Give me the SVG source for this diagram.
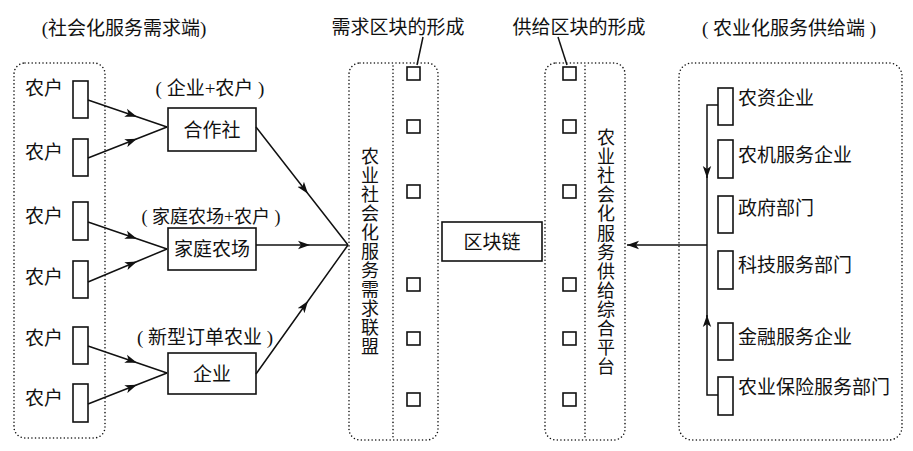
<svg xmlns="http://www.w3.org/2000/svg" width="913" height="451" viewBox="0 0 913 451">
<style>
text{font-family:"Liberation Serif","Noto Sans CJK SC",serif;font-size:19px;fill:#111;dominant-baseline:central}
.c{text-anchor:middle}
.box{fill:#fff;stroke:#111;stroke-width:1.6}
.dot{fill:none;stroke:#111;stroke-width:1.6;stroke-dasharray:0 3.6;stroke-linecap:round}
.ln{fill:none;stroke:#111;stroke-width:1.5}
.sq{fill:#fff;stroke:#111;stroke-width:1.6}
</style>
<defs>
<marker id="ah" markerUnits="userSpaceOnUse" markerWidth="14" markerHeight="10" refX="12" refY="5" orient="auto">
<path d="M0,0.8 L12,5 L0,9.2 L3,5 Z" fill="#111"/>
</marker>
</defs>
<rect width="913" height="451" fill="#fff"/>
<text x="124" y="28" class="c">(社会化服务需求端)</text>
<text x="789" y="28" class="c">(  农业化服务供给端  )</text>
<g id="demand-side">
<rect class="dot" x="14" y="63" width="91" height="375" rx="11"/>
</g>
<g id="farmer1"><text x="44" y="88" class="c">农户</text><rect class="box" x="73" y="81" width="15" height="37"/></g>
<g id="farmer2"><text x="44" y="152" class="c">农户</text><rect class="box" x="73" y="139" width="15" height="37"/></g>
<g id="farmer3"><text x="44" y="216" class="c">农户</text><rect class="box" x="73" y="202" width="15" height="38"/></g>
<g id="farmer4"><text x="44" y="277" class="c">农户</text><rect class="box" x="73" y="261" width="15" height="37"/></g>
<g id="farmer5"><text x="44" y="338" class="c">农户</text><rect class="box" x="73" y="327" width="15" height="37"/></g>
<g id="farmer6"><text x="44" y="398" class="c">农户</text><rect class="box" x="73" y="384" width="15" height="38"/></g>
<g id="coop"><text x="210" y="88" class="c">( 企业+农户 )</text><rect class="box" x="168" y="108" width="88" height="43"/><text x="212" y="130" class="c">合作社</text></g>
<g id="family-farm"><text x="211" y="217" class="c" style="font-size:18px">( 家庭农场+农户 )</text><rect class="box" x="168" y="228" width="88" height="42"/><text x="212" y="249" class="c">家庭农场</text></g>
<g id="enterprise"><text x="205" y="337" class="c">( 新型订单农业 )</text><rect class="box" x="168" y="353" width="88" height="41"/><text x="212" y="374" class="c">企业</text></g>
<g id="demand-alliance">
<rect class="dot" x="349" y="63" width="89" height="377" rx="11"/>
<line class="dot" x1="393" y1="66" x2="393" y2="438"/>
<text class="c" style="font-size:18px"><tspan x="370" y="157">农</tspan><tspan x="370" y="176">业</tspan><tspan x="370" y="195">社</tspan><tspan x="370" y="214">会</tspan><tspan x="370" y="233">化</tspan><tspan x="370" y="252">服</tspan><tspan x="370" y="271">务</tspan><tspan x="370" y="290">需</tspan><tspan x="370" y="309">求</tspan><tspan x="370" y="328">联</tspan><tspan x="370" y="347">盟</tspan></text>
<rect class="sq" x="407" y="67" width="13" height="13"/>
<rect class="sq" x="407" y="120" width="13" height="13"/>
<rect class="sq" x="407" y="185" width="13" height="13"/>
<rect class="sq" x="407" y="278" width="13" height="13"/>
<rect class="sq" x="407" y="332" width="13" height="13"/>
<rect class="sq" x="407" y="393" width="13" height="13"/>
</g>
<g id="demand-block-label"><text x="398" y="27" class="c">需求区块的形成</text></g>
<g id="supply-block-label"><text x="579" y="27" class="c">供给区块的形成</text></g>
<g id="blockchain"><rect class="box" x="442" y="222" width="100" height="39"/><text x="492" y="242" class="c">区块链</text></g>
<g id="supply-platform">
<rect class="dot" x="545" y="63" width="80" height="377" rx="11"/>
<line class="dot" x1="585" y1="66" x2="585" y2="438"/>
<text class="c" style="font-size:18px"><tspan x="606" y="138">农</tspan><tspan x="606" y="157">业</tspan><tspan x="606" y="176">社</tspan><tspan x="606" y="195">会</tspan><tspan x="606" y="214">化</tspan><tspan x="606" y="234">服</tspan><tspan x="606" y="253">务</tspan><tspan x="606" y="272">供</tspan><tspan x="606" y="291">给</tspan><tspan x="606" y="310">综</tspan><tspan x="606" y="329">合</tspan><tspan x="606" y="348">平</tspan><tspan x="606" y="367">台</tspan></text>
<rect class="sq" x="563" y="67" width="13" height="13"/>
<rect class="sq" x="563" y="120" width="13" height="13"/>
<rect class="sq" x="563" y="185" width="13" height="13"/>
<rect class="sq" x="563" y="278" width="13" height="13"/>
<rect class="sq" x="563" y="332" width="13" height="13"/>
<rect class="sq" x="563" y="393" width="13" height="13"/>
</g>
<g id="supply-side"><rect class="dot" x="679" y="63" width="223" height="377" rx="13"/></g>
<g id="agri-input"><rect class="box" x="718" y="88" width="15" height="37"/><text x="738" y="98">农资企业</text></g>
<g id="machinery"><rect class="box" x="718" y="140" width="15" height="38"/><text x="738" y="155">农机服务企业</text></g>
<g id="government"><rect class="box" x="718" y="196" width="15" height="37"/><text x="738" y="208">政府部门</text></g>
<g id="tech"><rect class="box" x="718" y="251" width="15" height="38"/><text x="738" y="265">科技服务部门</text></g>
<g id="finance"><rect class="box" x="718" y="323" width="15" height="37"/><text x="738" y="337">金融服务企业</text></g>
<g id="insurance"><rect class="box" x="718" y="377" width="15" height="38"/><text x="738" y="387">农业保险服务部门</text></g>
<g id="connectors">
<path class="ln" d="M88,100 L137,116.7 L167,127" marker-mid="url(#ah)"/>
<path class="ln" d="M88,158 L137,138.8 L167,127" marker-mid="url(#ah)"/>
<path class="ln" d="M88,222 L137,238.7 L167,249" marker-mid="url(#ah)"/>
<path class="ln" d="M88,282 L137,261.5 L167,249" marker-mid="url(#ah)"/>
<path class="ln" d="M88,346 L137,362.7 L167,373" marker-mid="url(#ah)"/>
<path class="ln" d="M88,404 L137,384.8 L167,373" marker-mid="url(#ah)"/>
<path class="ln" d="M256,127 L308,193.7 L348,245" marker-mid="url(#ah)"/>
<path class="ln" d="M256,245 L310,245 L348,245" marker-mid="url(#ah)"/>
<path class="ln" d="M256,374 L308,301 L348,245" marker-mid="url(#ah)"/>
<path class="ln" d="M423,37 L417,65"/>
<path class="ln" d="M558,37 L567,65"/>
<path class="ln" d="M718,105 H707 V178" marker-end="url(#ah)"/>
<path class="ln" d="M707,176 V245"/>
<path class="ln" d="M718,395 H707 V315" marker-end="url(#ah)"/>
<path class="ln" d="M707,317 V245"/>
<path class="ln" d="M707,245 H627" marker-end="url(#ah)"/>
</g>
</svg>
